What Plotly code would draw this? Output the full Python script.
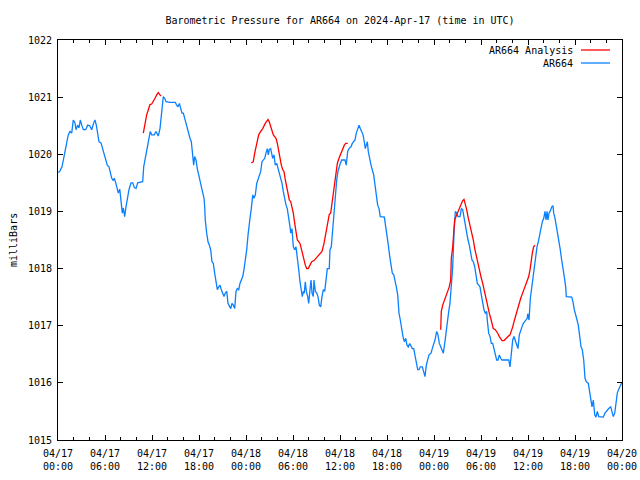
import pandas as pd
import plotly.graph_objects as go

START = "2024-04-17 00:00"

# AR664 observed pressure: hours since 2024-04-17 00:00 UTC, value in mbar
obs_hours = [0.05, 0.26, 0.51, 0.68, 0.89, 1.11, 1.31, 1.53, 1.75, 1.95, 2.17, 2.30, 2.51, 2.68, 2.85, 3.03, 3.23, 3.54, 3.79, 4.05,
             4.30, 4.56, 4.72, 4.89, 5.07, 5.23, 5.49, 5.66, 5.91, 6.09, 6.29, 6.51, 6.68, 6.86, 7.06, 7.19, 7.37, 7.53, 7.70, 7.88,
             8.04, 8.21, 8.34, 8.51, 8.68, 8.85, 9.06, 9.32, 9.54, 9.74, 9.96, 10.17, 10.60, 10.81, 10.94, 11.11, 11.32, 11.53, 11.78, 11.96,
             12.29, 12.51, 12.80, 13.02, 13.15, 13.28, 13.44, 13.62, 13.79, 14.30, 14.97, 15.15, 15.32, 15.49, 15.66, 15.83, 16.00, 16.17, 16.34, 16.51,
             16.69, 16.85, 17.02, 17.11, 17.20, 17.32, 17.45, 17.62, 17.78, 17.96, 18.13, 18.29, 18.47, 18.64, 18.73, 18.80, 18.98, 19.15, 19.32, 19.49,
             19.66, 19.83, 20.00, 20.17, 20.34, 20.52, 20.68, 20.85, 21.03, 21.19, 21.36, 21.54, 21.70, 21.87, 22.05, 22.21, 22.38, 22.56, 22.63, 22.72,
             22.89, 23.07, 23.23, 23.40, 23.58, 23.74, 23.91, 24.09, 24.26, 24.42, 24.51, 24.68, 24.86, 25.02, 25.19, 25.37, 25.53, 25.70, 25.88, 26.04,
             26.21, 26.39, 26.55, 26.72, 26.85, 26.97, 27.15, 27.28, 27.41, 27.57, 27.74, 27.92, 28.09, 28.25, 28.43, 28.60, 28.76, 28.94, 29.11, 29.27,
             29.45, 29.62, 29.71, 29.87, 30.04, 30.22, 30.38, 30.55, 30.73, 30.89, 31.06, 31.19, 31.32, 31.44, 31.57, 31.70, 31.88, 32.00, 32.17, 32.30,
             32.43, 32.59, 32.68, 32.85, 33.03, 33.19, 33.36, 33.54, 33.70, 33.87, 34.05, 34.21, 34.38, 34.63, 34.72, 34.89, 35.07, 35.23, 35.40, 35.58,
             35.74, 35.91, 36.04, 36.22, 36.64, 36.80, 36.98, 37.15, 37.40, 37.57, 37.75, 37.91, 38.08, 38.26, 38.43, 38.59, 38.77, 38.94, 39.10, 39.23,
             39.36, 39.49, 39.61, 39.79, 39.96, 40.12, 40.30, 40.47, 40.63, 40.81, 40.98, 41.14, 41.66, 41.83, 42.00, 42.17, 42.35, 42.51, 42.68, 42.86,
             43.02, 43.19, 43.37, 43.53, 43.70, 43.88, 44.04, 44.21, 44.39, 44.55, 44.72, 44.90, 45.06, 45.23, 45.41, 45.57, 45.74, 45.92, 46.09, 46.25,
             46.51, 46.69, 46.85, 47.02, 47.20, 47.36, 47.62, 47.78, 47.91, 48.13, 48.34, 48.51, 48.68, 48.86, 49.02, 49.19, 49.37, 49.53, 49.70, 49.88,
             50.04, 50.21, 50.39, 50.55, 50.72, 50.90, 51.06, 51.32, 51.49, 51.66, 51.83, 52.00, 52.17, 52.34, 52.51, 52.69, 52.85, 53.02, 53.20, 53.36,
             53.53, 53.71, 53.87, 54.04, 54.22, 54.38, 54.55, 54.73, 54.80, 54.98, 55.15, 55.32, 55.49, 55.66, 55.83, 56.00, 56.17, 56.34, 56.51, 56.68,
             56.94, 57.28, 57.54, 57.70, 57.87, 58.05, 58.21, 58.38, 58.56, 58.72, 58.89, 59.07, 59.23, 59.40, 59.58, 59.74, 59.91, 59.96, 60.13, 60.30,
             60.47, 60.64, 60.81, 60.98, 61.15, 61.32, 61.49, 61.66, 61.83, 62.01, 62.17, 62.30, 62.43, 62.55, 62.68, 62.85, 63.03, 63.19, 63.28, 63.45,
             63.61, 63.79, 63.96, 64.12, 64.30, 64.47, 64.63, 64.81, 64.89, 65.58, 65.74, 65.91, 66.09, 66.26, 66.42, 66.60, 66.77, 66.93, 67.11, 67.28,
             67.44, 67.70, 67.88, 68.01, 68.17, 68.34, 68.52, 68.68, 68.85, 69.03, 69.41, 69.61, 69.83, 70.05, 70.30, 70.56, 70.72, 70.89, 71.07, 71.23,
             71.40, 71.58, 71.83, 72.00]
obs_mbar = [1019.68, 1019.71, 1019.78, 1019.90, 1020.08, 1020.22, 1020.34, 1020.40, 1020.37, 1020.60, 1020.55, 1020.43, 1020.51, 1020.46, 1020.60, 1020.51, 1020.43, 1020.43, 1020.51, 1020.50,
            1020.43, 1020.55, 1020.60, 1020.51, 1020.31, 1020.22, 1020.20, 1020.11, 1019.96, 1019.90, 1019.81, 1019.78, 1019.70, 1019.58, 1019.54, 1019.58, 1019.50, 1019.38, 1019.32, 1019.39,
            1019.23, 1018.97, 1019.06, 1018.91, 1019.08, 1019.26, 1019.38, 1019.50, 1019.50, 1019.42, 1019.40, 1019.50, 1019.52, 1019.52, 1019.78, 1019.90, 1020.08, 1020.22, 1020.40, 1020.34,
            1020.34, 1020.40, 1020.32, 1020.45, 1020.63, 1020.80, 1021.01, 1020.98, 1020.92, 1020.91, 1020.91, 1020.86, 1020.83, 1020.89, 1020.80, 1020.72, 1020.72, 1020.63, 1020.51, 1020.43,
            1020.37, 1020.28, 1020.22, 1020.10, 1019.90, 1019.81, 1019.96, 1019.90, 1019.75, 1019.64, 1019.55, 1019.43, 1019.35, 1019.23, 1019.08, 1018.85, 1018.62, 1018.47, 1018.41, 1018.33,
            1018.12, 1018.09, 1017.92, 1017.74, 1017.63, 1017.68, 1017.71, 1017.63, 1017.57, 1017.51, 1017.57, 1017.60, 1017.39, 1017.33, 1017.30, 1017.39, 1017.36, 1017.30, 1017.45, 1017.60,
            1017.65, 1017.63, 1017.74, 1017.80, 1017.86, 1017.98, 1018.12, 1018.33, 1018.59, 1018.73, 1018.88, 1019.05, 1019.29, 1019.23, 1019.29, 1019.49, 1019.55, 1019.61, 1019.70, 1019.87,
            1019.90, 1019.93, 1020.02, 1020.10, 1019.99, 1020.08, 1020.10, 1020.02, 1019.93, 1019.99, 1019.81, 1019.84, 1019.75, 1019.70, 1019.61, 1019.49, 1019.35, 1019.20, 1019.11, 1019.05,
            1018.91, 1018.73, 1018.62, 1018.70, 1018.38, 1018.33, 1018.38, 1018.21, 1017.98, 1017.77, 1017.60, 1017.51, 1017.60, 1017.57, 1017.77, 1017.60, 1017.51, 1017.39, 1017.63, 1017.80,
            1017.57, 1017.51, 1017.80, 1017.60, 1017.57, 1017.51, 1017.36, 1017.33, 1017.51, 1017.63, 1017.60, 1017.86, 1018.00, 1018.00, 1018.33, 1018.38, 1018.68, 1019.03, 1019.32, 1019.55,
            1019.70, 1019.81, 1019.84, 1019.90, 1019.90, 1019.81, 1020.05, 1020.10, 1020.13, 1020.19, 1020.22, 1020.25, 1020.37, 1020.45, 1020.51, 1020.45, 1020.40, 1020.34, 1020.22, 1020.10,
            1020.16, 1020.22, 1020.05, 1019.90, 1019.81, 1019.73, 1019.64, 1019.46, 1019.29, 1019.11, 1019.05, 1018.91, 1018.90, 1018.70, 1018.56, 1018.41, 1018.21, 1018.06, 1017.92, 1017.89,
            1017.80, 1017.68, 1017.54, 1017.22, 1017.10, 1016.93, 1016.81, 1016.72, 1016.78, 1016.66, 1016.63, 1016.69, 1016.63, 1016.60, 1016.60, 1016.46, 1016.34, 1016.23, 1016.23, 1016.28,
            1016.28, 1016.17, 1016.11, 1016.31, 1016.43, 1016.49, 1016.52, 1016.58, 1016.66, 1016.75, 1016.90, 1016.84, 1016.69, 1016.63, 1016.58, 1016.52, 1016.69, 1016.87, 1017.13, 1017.25,
            1017.39, 1017.65, 1018.03, 1018.62, 1019.00, 1018.97, 1018.91, 1018.91, 1019.05, 1019.03, 1018.88, 1018.73, 1018.59, 1018.50, 1018.41, 1018.30, 1018.15, 1018.12, 1018.03, 1017.89,
            1017.74, 1017.71, 1017.68, 1017.54, 1017.36, 1017.28, 1017.22, 1017.25, 1017.10, 1016.87, 1016.81, 1016.69, 1016.69, 1016.60, 1016.52, 1016.40, 1016.40, 1016.49, 1016.43, 1016.40,
            1016.40, 1016.40, 1016.40, 1016.28, 1016.58, 1016.75, 1016.81, 1016.75, 1016.69, 1016.60, 1016.84, 1016.93, 1016.98, 1017.04, 1017.07, 1017.10, 1017.13, 1017.21, 1017.10, 1017.48,
            1017.68, 1017.89, 1018.00, 1018.21, 1018.38, 1018.47, 1018.59, 1018.70, 1018.82, 1018.88, 1019.00, 1018.85, 1019.00, 1018.85, 1018.97, 1019.01, 1019.08, 1019.10, 1018.97, 1018.88,
            1018.76, 1018.59, 1018.44, 1018.33, 1018.15, 1018.03, 1017.86, 1017.68, 1017.51, 1017.50, 1017.42, 1017.28, 1017.16, 1017.10, 1017.01, 1016.81, 1016.63, 1016.58, 1016.40, 1016.08,
            1016.02, 1015.99, 1015.82, 1015.67, 1015.58, 1015.70, 1015.44, 1015.40, 1015.50, 1015.41, 1015.40, 1015.40, 1015.47, 1015.51, 1015.55, 1015.58, 1015.50, 1015.41, 1015.47, 1015.64,
            1015.82, 1015.89, 1015.96, 1016.01]

# AR664 Analysis: three separate segments (hours, mbar)
ana1_hours = [10.89, 11.11, 11.32, 11.53, 11.74, 11.96, 12.17, 12.38, 12.60, 12.80, 13.02, 13.15]
ana1_mbar = [1020.37, 1020.54, 1020.69, 1020.78, 1020.87, 1020.88, 1020.92, 1020.98, 1021.04, 1021.08, 1021.04, 1021.02]

ana2_hours = [24.68, 24.93, 25.11, 25.28, 25.44, 25.62, 25.88, 26.13, 26.46, 26.81, 26.97, 27.15, 27.32, 27.49, 27.66, 27.83, 28.00, 28.17, 28.34, 28.51,
              28.69, 28.85, 29.02, 29.20, 29.36, 29.53, 29.71, 29.87, 30.04, 30.22, 30.38, 30.55, 30.73, 30.89, 31.06, 31.24, 31.40, 31.57, 31.75, 31.95,
              32.17, 32.39, 32.68, 32.94, 33.19, 33.45, 33.70, 33.96, 34.12, 34.30, 34.47, 34.63, 34.81, 34.98, 35.14, 35.32, 35.49, 35.66, 35.87, 36.04,
              36.22, 36.38, 36.55, 36.73, 36.98]
ana2_mbar = [1019.85, 1019.87, 1020.02, 1020.13, 1020.25, 1020.34, 1020.40, 1020.45, 1020.54, 1020.61, 1020.57, 1020.48, 1020.40, 1020.34, 1020.31, 1020.28, 1020.19, 1020.05, 1019.93, 1019.81,
             1019.73, 1019.70, 1019.55, 1019.43, 1019.32, 1019.20, 1019.17, 1019.08, 1018.97, 1018.79, 1018.65, 1018.50, 1018.47, 1018.44, 1018.35, 1018.24, 1018.15, 1018.06, 1018.00, 1018.00,
             1018.06, 1018.12, 1018.14, 1018.18, 1018.22, 1018.26, 1018.30, 1018.44, 1018.56, 1018.73, 1018.85, 1018.95, 1018.97, 1019.14, 1019.38, 1019.55, 1019.70, 1019.84, 1019.93, 1019.99,
             1020.05, 1020.10, 1020.16, 1020.19, 1020.19]

ana3_hours = [48.86, 48.93, 49.11, 49.28, 49.44, 49.62, 49.79, 49.95, 50.13, 50.21, 50.39, 50.55, 50.64, 50.81, 50.97, 51.15, 51.32, 51.49, 51.66, 51.83,
              52.00, 52.17, 52.34, 52.51, 52.69, 52.85, 53.02, 53.20, 53.36, 53.53, 53.71, 53.87, 54.04, 54.22, 54.38, 54.55, 54.73, 54.89, 55.06, 55.24,
              55.40, 55.57, 55.83, 56.00, 56.17, 56.34, 56.51, 56.68, 56.94, 57.19, 57.45, 57.70, 57.87, 58.05, 58.21, 58.38, 58.56, 58.72, 58.89, 59.07,
              59.23, 59.40, 59.58, 59.74, 59.91, 60.09, 60.26, 60.38, 60.55, 60.72, 60.89]
ana3_mbar = [1016.93, 1017.25, 1017.36, 1017.42, 1017.51, 1017.57, 1017.63, 1017.68, 1017.80, 1018.18, 1018.38, 1018.68, 1018.85, 1018.91, 1018.97, 1019.03, 1019.08, 1019.14, 1019.19, 1019.21,
             1019.14, 1019.03, 1018.91, 1018.82, 1018.70, 1018.62, 1018.50, 1018.35, 1018.24, 1018.12, 1018.00, 1017.92, 1017.83, 1017.74, 1017.63, 1017.51, 1017.39, 1017.30, 1017.22, 1017.13,
             1017.04, 1016.95, 1016.93, 1016.90, 1016.86, 1016.81, 1016.76, 1016.74, 1016.74, 1016.78, 1016.81, 1016.84, 1016.90, 1016.98, 1017.07, 1017.16, 1017.25, 1017.33, 1017.39, 1017.48,
             1017.54, 1017.60, 1017.68, 1017.74, 1017.77, 1017.86, 1017.98, 1018.15, 1018.27, 1018.38, 1018.41]

tick_hours = list(range(0, 73, 6))
tick_labels = ["04/17<br>00:00", "04/17<br>06:00", "04/17<br>12:00", "04/17<br>18:00",
               "04/18<br>00:00", "04/18<br>06:00", "04/18<br>12:00", "04/18<br>18:00",
               "04/19<br>00:00", "04/19<br>06:00", "04/19<br>12:00", "04/19<br>18:00",
               "04/20<br>00:00"]
y_ticks = [1015, 1016, 1017, 1018, 1019, 1020, 1021, 1022]

t0 = pd.Timestamp(START)


def to_time(hours):
    return t0 + pd.to_timedelta(hours, unit="h")


RED = "#ff0000"
BLUE = "#0a80ff"
FONT = "DejaVu Sans Mono"
LW = 1.3

fig = go.Figure()
fig.add_trace(go.Scatter(x=to_time(obs_hours), y=obs_mbar, mode="lines", name="AR664",
                         line=dict(color=BLUE, width=LW)))
for h, v in [(ana1_hours, ana1_mbar), (ana2_hours, ana2_mbar), (ana3_hours, ana3_mbar)]:
    fig.add_trace(go.Scatter(x=to_time(h), y=v, mode="lines", name="AR664 Analysis",
                             line=dict(color=RED, width=LW)))

fig.update_layout(
    width=640, height=480,
    margin=dict(l=58, r=18, t=40, b=40, autoexpand=False),
    paper_bgcolor="white", plot_bgcolor="white",
    showlegend=False,
    font=dict(family=FONT, size=10, color="black"),
    title=dict(text="Barometric Pressure for AR664 on 2024-Apr-17 (time in UTC)",
               x=0.5, xref="paper", xanchor="center", y=1 - 20 / 480, yanchor="middle",
               font=dict(family=FONT, size=10, color="black")),
)
fig.update_xaxes(
    type="date", automargin=False,
    range=[to_time(0), to_time(72)],
    tickvals=to_time(tick_hours), ticktext=tick_labels,
    ticks="inside", ticklen=5, tickcolor="black", tickwidth=1,
    ticklabelstandoff=4,
    minor=dict(dtick=2 * 3600 * 1000, ticks="inside", ticklen=3, tickcolor="black", showgrid=False),
    showline=True, linecolor="black", linewidth=1, mirror="allticks",
    showgrid=False, zeroline=False,
    tickfont=dict(family=FONT, size=10, color="black"),
)
fig.update_yaxes(
    automargin=False,
    range=[1015, 1022], tickvals=y_ticks, ticktext=[str(v) for v in y_ticks],
    ticks="inside", ticklen=5, tickcolor="black", tickwidth=1,
    ticklabelstandoff=3,
    showline=True, linecolor="black", linewidth=1, mirror="allticks",
    showgrid=False, zeroline=False,
    tickfont=dict(family=FONT, size=10, color="black"),
)

# y-axis title
fig.add_annotation(text="milliBars", xref="paper", yref="paper", x=(13 - 58) / 564, y=0.5,
                   textangle=-90, showarrow=False, xanchor="center", yanchor="middle",
                   font=dict(family=FONT, size=10, color="black"))

# gnuplot-style legend: text on the left, line sample on the right
legend_rows = [("AR664 Analysis", RED, 50), ("AR664", BLUE, 63)]
for label, color, ypx in legend_rows:
    yp = 1 - (ypx - 40) / 400
    fig.add_annotation(text=label, xref="paper", yref="paper", x=(575 - 58) / 564, y=yp,
                       showarrow=False, xanchor="right", yanchor="middle",
                       font=dict(family=FONT, size=10, color="black"))
    fig.add_shape(type="line", xref="paper", yref="paper",
                  x0=(581 - 58) / 564, x1=(610 - 58) / 564, y0=yp, y1=yp,
                  line=dict(color=color, width=LW))

fig.write_html("out.html", config={"displayModeBar": False},
               post_script="document.body.style.margin='0';document.body.style.overflow='hidden';")
